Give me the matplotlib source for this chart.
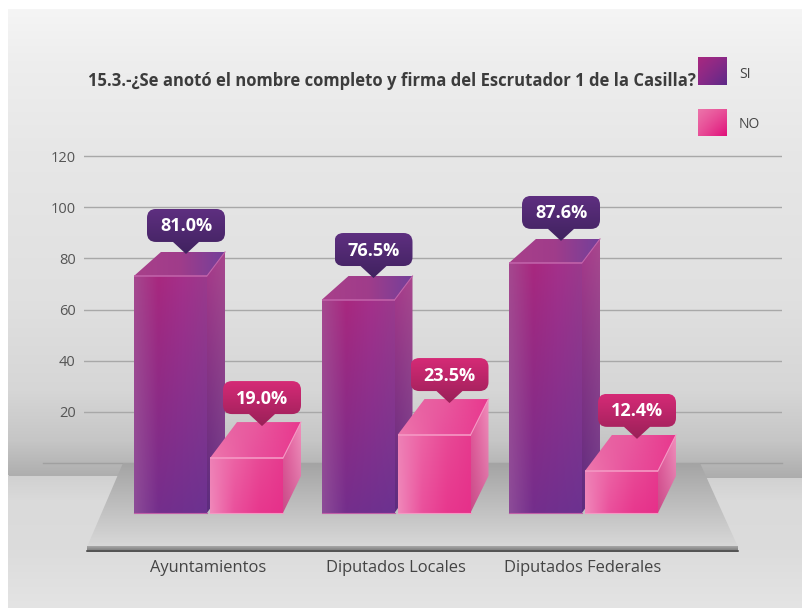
import numpy as np
import matplotlib
matplotlib.use("Agg")
import matplotlib.pyplot as plt
from matplotlib.patches import Polygon, PathPatch
from matplotlib.path import Path
from matplotlib.colors import to_rgb

# ---- data ----
categories = ["Ayuntamientos", "Diputados Locales", "Diputados Federales"]
si_labels = [81.0, 76.5, 87.6]
no_labels = [19.0, 23.5, 12.4]
# top of the drawn bars as they stand against the y axis (back edge)
si_tops = [82.5, 73.1, 87.6]
no_tops = [16.0, 25.0, 11.0]
y_ticks = [20, 40, 60, 80, 100, 120]
title = "15.3.-¿Se anotó el nombre completo y firma del Escrutador 1 de la Casilla?"
series_names = ["SI", "NO"]

W, H = 802, 608
FONT = "Open Sans"
PXU = 2.558      # px per y unit
PXC = 187.5      # px per category
Y0 = 463         # px of y=0
X0 = 208         # px of category 0
AX_L, AX_R, AX_T, AX_B = 84, 782, 130, 551
BASE = -19.5     # front foot of the bars on the y scale


def lerp_stops(stops, n):
    stops = np.array([to_rgb(c) for c in stops])
    t = np.linspace(0, 1, n)
    s = np.linspace(0, 1, len(stops))
    return np.stack([np.interp(t, s, stops[:, i]) for i in range(3)], axis=1)


def grad2d(top, bottom, n=80):
    a = lerp_stops(top, n)
    b = lerp_stops(bottom, n)
    t = np.linspace(0, 1, n)[:, None, None]
    return (1 - t) * a[None, :, :] + t * b[None, :, :]


def fill_grad(ax, pts, img, zorder):
    pts = np.array(pts)
    x0, x1 = pts[:, 0].min(), pts[:, 0].max()
    y0, y1 = pts[:, 1].min(), pts[:, 1].max()
    top, bot = (y0, y1) if bool(ax.yaxis_inverted()) else (y1, y0)
    im = ax.imshow(img, extent=(x0, x1, bot, top), aspect="auto",
                   interpolation="bilinear", zorder=zorder)
    clip = Polygon(pts, closed=True, transform=ax.transData)
    im.set_clip_path(clip)


fig = plt.figure(figsize=(W / 100, H / 100), dpi=100, facecolor="white")

# ---- backdrop in pixel coordinates ----
bg = fig.add_axes([0, 0, 1, 1], zorder=0)
bg.set_xlim(0, W)
bg.set_ylim(H, 0)
bg.axis("off")
yy, xx = np.mgrid[9:H, 8:W]
edge = 475 + 3 * (xx - 8) / (W - 8)
wall_c = np.interp(yy, [9, 60, 150, 300, 390, 440, 478], [245, 238, 231, 224, 214, 198, 172])
floor_c = np.interp(yy, [474, 500, 550, 608], [208, 218, 220, 228])
grey = np.where(yy < edge, wall_c, floor_c) / 255
bg.imshow(np.dstack([grey] * 3), extent=(8, W, H, 9), aspect="auto", zorder=1)
bg.set_xlim(0, W)
bg.set_ylim(H, 0)
bg.plot([43, 782], [463, 463], color="#a0a0a0", lw=1, zorder=2)
plate = [(123, 463), (700, 463), (738, 547), (87, 547)]
fill_grad(bg, plate, grad2d(["#a4a4a4", "#a4a4a4"], ["#d8d8d8", "#d8d8d8"]), 3)
fill_grad(bg, [(87, 546), (738, 546), (738, 552), (87, 552)],
          grad2d(["#a8a8a8", "#a8a8a8"], ["#707070", "#707070"]), 4)
bg.plot([87, 738], [550.5, 550.5], color="#4e4e4e", lw=1.2, zorder=5)
bg.set_xlim(0, W)
bg.set_ylim(H, 0)

# title and legend
bg.text(88, 81, title, family=FONT, fontweight="bold", fontsize=11.95,
        color="#3c3c3c", va="center", ha="left", zorder=6)
fill_grad(bg, [(698, 57), (727, 57), (727, 85), (698, 85)],
          grad2d(["#a8287f", "#8a2a88"], ["#8a2a88", "#5c2a88"]), 6)
fill_grad(bg, [(698, 109), (727, 109), (727, 136), (698, 136)],
          grad2d(["#ec74aa", "#e85098"], ["#e85098", "#e0107a"]), 6)
bg.text(739, 75, series_names[0], family=FONT, fontsize=10, color="#444444", va="center", zorder=6)
bg.text(739, 124, series_names[1], family=FONT, fontsize=10, color="#444444", va="center", zorder=6)
bg.set_xlim(0, W)
bg.set_ylim(H, 0)

# ---- chart axes ----
ax = fig.add_axes([AX_L / W, 1 - AX_B / H, (AX_R - AX_L) / W, (AX_B - AX_T) / H], zorder=1)
ax.patch.set_alpha(0)
XLIM = ((AX_L - X0) / PXC, (AX_R - X0) / PXC)
YLIM = ((Y0 - AX_B) / PXU, (Y0 - AX_T) / PXU)
for s in ax.spines.values():
    s.set_visible(False)
ax.set_yticks(y_ticks)
ax.set_xticks(range(len(categories)))
ax.set_xticklabels(categories, family=FONT, fontsize=11.9, color="#444444")
ax.tick_params(axis="x", length=0, pad=6.5)
ax.tick_params(axis="y", length=0, pad=6, labelsize=10.5, labelcolor="#555555")
for lab in ax.get_yticklabels():
    lab.set_family(FONT)
ax.grid(axis="y", color="#a8a8a8", lw=1)
ax.set_axisbelow(True)
ax.set_xlim(*XLIM)
ax.set_ylim(*YLIM)


def dx(px):
    return px / PXC


def dy(px):
    return px / PXU


SI_STYLE = dict(
    front=(["#a5488f", "#a8287f", "#a4308a", "#9a3a8c"], ["#8c4c98", "#742e8c", "#70308e", "#6c3290"]),
    top=(["#a8408a", "#a03c8a", "#74409a"], ["#a8408a", "#a03c8a", "#74409a"]),
    side=(["#a83a8a", "#a8488e"], ["#5c2c7e", "#6a3a88"]),
    edge="#c060a8", dz=24, side_foot=25,
)
NO_STYLE = dict(
    front=(["#ee80b6", "#ec62a4", "#e84a96", "#e63a8e"], ["#f088ba", "#ea509c", "#e8388e", "#e6308a"]),
    top=(["#e86aa6", "#e85a9e", "#e8388e"], ["#ee78ae", "#e8509c", "#e8388e"]),
    side=(["#e85a9e", "#f090bc"], ["#c84c88", "#d86aa0"]),
    edge="#f598c4", dz=36, side_foot=37,
)
BAR_W = dx(73)


def draw_bar(xc, back_top, st, z):
    xl, xr = xc - BAR_W / 2, xc + BAR_W / 2
    front_top = back_top - dy(st["dz"])
    back_l, back_r = xl + dx(27), xr + dx(18)
    fill_grad(ax, [(xr, front_top), (back_r, back_top), (back_r, BASE + dy(st["side_foot"])), (xr, BASE)],
              grad2d(*st["side"]), z)
    fill_grad(ax, [(xl, front_top), (back_l, back_top), (back_r, back_top), (xr, front_top)],
              grad2d(*st["top"]), z)
    fill_grad(ax, [(xl, front_top), (xr, front_top), (xr, BASE), (xl, BASE)],
              grad2d(*st["front"]), z + 0.1)
    ax.plot([xl, xr], [front_top, front_top], color=st["edge"], lw=1.2, zorder=z + 0.2,
            solid_capstyle="butt")
    ax.plot([xr, back_r], [front_top, back_top], color=st["edge"], lw=0.8, zorder=z + 0.2)
    ax.plot([xl, xr], [BASE, BASE], color=st["edge"], lw=0.8, zorder=z + 0.2)


def draw_bubble(xc, back_top, tip_px, text, top_c, bot_c):
    hw, hh, r = 39, 16.5, 9
    tip_y = back_top - dy(tip_px)
    cy_px = 12 + hh          # bubble bottom is 12 px above the tip
    cy = tip_y + dy(cy_px)

    def P(px, py):           # offset in px from the bubble centre, y up
        return (xc + dx(px), cy + dy(py))

    verts = [P(-hw + r, hh), P(hw - r, hh), P(hw, hh), P(hw, hh - r), P(hw, -hh + r), P(hw, -hh), P(hw - r, -hh),
             P(13, -hh), P(0, -hh - 12), P(-13, -hh),
             P(-hw + r, -hh), P(-hw, -hh), P(-hw, -hh + r), P(-hw, hh - r), P(-hw, hh), P(-hw + r, hh)]
    codes = [Path.MOVETO, Path.LINETO, Path.CURVE3, Path.CURVE3, Path.LINETO, Path.CURVE3, Path.CURVE3,
             Path.LINETO, Path.LINETO, Path.LINETO,
             Path.LINETO, Path.CURVE3, Path.CURVE3, Path.LINETO, Path.CURVE3, Path.CURVE3]
    path = Path(verts, codes)
    ys = [v[1] for v in verts]
    xs = [v[0] for v in verts]
    img = grad2d([top_c, top_c], [bot_c, bot_c])
    im = ax.imshow(img, extent=(min(xs), max(xs), min(ys), max(ys)), aspect="auto",
                   interpolation="bilinear", zorder=20)
    im.set_clip_path(PathPatch(path, transform=ax.transData))
    ax.text(xc, cy - dy(1), text, family=FONT, fontweight="bold", fontsize=13,
            color="white", ha="center", va="center", zorder=21)


for i in range(len(categories)):
    xs = i - dx(37.5)
    xn = i + dx(38.5)
    draw_bar(xs, si_tops[i], SI_STYLE, 5 + i)
    draw_bar(xn, no_tops[i], NO_STYLE, 5.5 + i)
    draw_bubble(xs + dx(15.5), si_tops[i], 2, f"{si_labels[i]:.1f}%", "#5e2f80", "#40225f")
    draw_bubble(xn + dx(15.5), no_tops[i], 4, f"{no_labels[i]:.1f}%", "#d52a76", "#9a2058")

ax.set_xlim(*XLIM)
ax.set_ylim(*YLIM)
fig.savefig("out.png", dpi=100)
